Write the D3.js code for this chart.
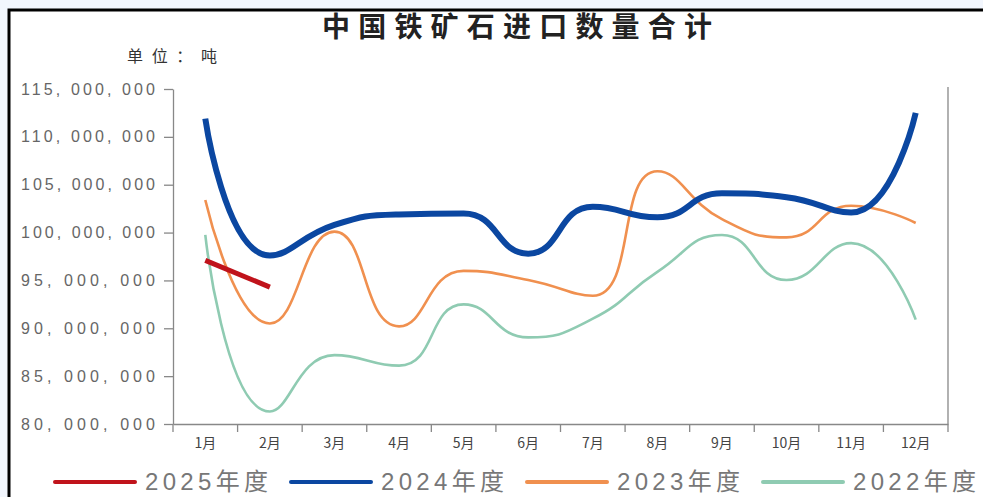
<!DOCTYPE html>
<html><head><meta charset="utf-8">
<script src="https://cdn.jsdelivr.net/npm/d3@7"></script>
<style>
html,body{margin:0;padding:0;background:#f2f6fd;}
svg{display:block;}
</style></head>
<body>
<svg id="chart" width="983" height="497"></svg>
<script>
const months = ["1月","2月","3月","4月","5月","6月","7月","8月","9月","10月","11月","12月"];
const yTicks = [80000000,85000000,90000000,95000000,100000000,105000000,110000000,115000000];
const s2025 = [97100000, 94300000];
const s2024 = [111900000, 97600000, 100800000, 101900000, 102000000, 97800000, 102700000, 101600000, 104100000, 103700000, 102100000, 112500000];
const s2023 = [103400000, 90500000, 100100000, 90200000, 96000000, 95050000, 93400000, 106400000, 101400000, 99500000, 102800000, 101000000];
const s2022 = [99750000, 81300000, 87200000, 86100000, 92500000, 89050000, 91000000, 95900000, 99750000, 95050000, 98900000, 90900000];
const seriesNames = ["2025年度","2024年度","2023年度","2022年度"];
const seriesColors = ["#c0131b","#0b47a1","#f0904f","#8fcbb2"];
const seriesWidths = [5, 6, 2.6, 2.6];

// smooth curve (bezier with clamped control points, smoothness 0.5)
function SmoothCurve(ctx){ this._context = ctx; }
SmoothCurve.prototype = {
  areaStart(){}, areaEnd(){},
  lineStart(){ this._pts = []; },
  point(x,y){ this._pts.push([+x,+y]); },
  lineEnd(){
    const p = this._pts, c = this._context, smooth = 0.5, n = p.length;
    if (!n) return;
    let cpx0 = p[0][0], cpy0 = p[0][1];
    c.moveTo(p[0][0], p[0][1]);
    for (let i = 1; i < n; i++) {
      const [x, y] = p[i], [px, py] = p[i-1];
      let cpx1, cpy1, ncx, ncy;
      if (i === n - 1) { cpx1 = x; cpy1 = y; ncx = x; ncy = y; }
      else {
        const [nx, ny] = p[i+1];
        let vx = nx - px, vy = ny - py;
        const lp = Math.hypot(x - px, y - py), ln = Math.hypot(nx - x, ny - y);
        const r = ln / (ln + lp);
        ncx = x + vx*smooth*r; ncy = y + vy*smooth*r;
        ncx = Math.min(ncx, Math.max(nx, x)); ncy = Math.min(ncy, Math.max(ny, y));
        ncx = Math.max(ncx, Math.min(nx, x)); ncy = Math.max(ncy, Math.min(ny, y));
        vx = ncx - x; vy = ncy - y;
        cpx1 = x - vx*lp/ln; cpy1 = y - vy*lp/ln;
        cpx1 = Math.min(cpx1, Math.max(px, x)); cpy1 = Math.min(cpy1, Math.max(py, y));
        cpx1 = Math.max(cpx1, Math.min(px, x)); cpy1 = Math.max(cpy1, Math.min(py, y));
        vx = x - cpx1; vy = y - cpy1;
        ncx = x + vx*ln/lp; ncy = y + vy*ln/lp;
      }
      c.bezierCurveTo(cpx0, cpy0, cpx1, cpy1, x, y);
      cpx0 = ncx; cpy0 = ncy;
    }
  }
};
const curveSmooth = ctx => new SmoothCurve(ctx);

const svg = d3.select("#chart");
svg.append("rect").attr("x",9).attr("y",10).attr("width",1000).attr("height",520)
  .attr("fill","#fff").attr("stroke","#000").attr("stroke-width",3);

const x = d3.scaleBand().domain(months).range([173, 948]);
const y = d3.scaleLinear().domain([80000000, 115000000]).range([424, 89]);

svg.append("text").attr("x",322).attr("y",37).attr("textLength",390).attr("lengthAdjust","spacing")
  .attr("font-family","'Noto Sans CJK SC'").attr("font-size",28).attr("font-weight","bold")
  .attr("fill","#222").text("中国铁矿石进口数量合计");
svg.append("text").attr("x",127).attr("y",62).attr("textLength",90).attr("lengthAdjust","spacing")
  .attr("font-family","'Noto Sans CJK SC'").attr("font-size",16)
  .attr("fill","#333").text("单位：吨");

const fmt = v => d3.format(",")(v).replace(/,/g, ", ");
const ya = svg.append("g").attr("transform","translate(173,0)")
  .call(d3.axisLeft(y).tickValues(yTicks).tickSize(9).tickSizeOuter(0).tickFormat(fmt));
ya.selectAll("text").attr("font-family","'Liberation Sans', Arial").attr("font-size",16)
  .attr("fill","#666").attr("x",-18).attr("textLength",134).attr("lengthAdjust","spacing");
ya.selectAll("line,path").attr("stroke","#888").attr("stroke-width",1.3);

const xa = svg.append("g").attr("transform","translate(0,424)")
  .call(d3.axisBottom(x).tickSize(0).tickSizeOuter(0));
xa.selectAll("text").attr("font-family","'Noto Sans CJK SC'").attr("font-size",14)
  .attr("fill","#444").attr("dy","1.5em");
xa.selectAll("path").attr("stroke","#888").attr("stroke-width",1.3);
const bounds = months.map(m => x(m)).concat([x.range()[1]]);
svg.append("g").selectAll("line").data(bounds).join("line")
  .attr("x1",d=>d).attr("x2",d=>d).attr("y1",424).attr("y2",432)
  .attr("stroke","#888").attr("stroke-width",1.3);
svg.append("line").attr("x1",948).attr("x2",948).attr("y1",87).attr("y2",424)
  .attr("stroke","#888").attr("stroke-width",1.3);

const cx = m => x(m) + x.bandwidth()/2;
const line = d3.line().x((d,i)=>cx(months[i])).y(d=>y(d)).curve(curveSmooth);
const allSeries = [s2025, s2024, s2023, s2022];
[3,2,1,0].forEach(k => {
  svg.append("path").datum(allSeries[k]).attr("d",line).attr("fill","none")
    .attr("stroke",seriesColors[k]).attr("stroke-width",seriesWidths[k]);
});

const lg = svg.append("g");
seriesNames.forEach((n,i) => {
  const x0 = 55 + 236*i;
  lg.append("line").attr("x1",x0).attr("x2",x0+80).attr("y1",482).attr("y2",482)
    .attr("stroke",seriesColors[i]).attr("stroke-width",4).attr("stroke-linecap","round");
  lg.append("text").attr("x",x0+90).attr("y",490).attr("textLength",123).attr("lengthAdjust","spacing")
    .attr("font-family","'Liberation Sans','Noto Sans CJK SC'").attr("font-size",24)
    .attr("fill","#777").text(n);
});
</script>
</body></html>
